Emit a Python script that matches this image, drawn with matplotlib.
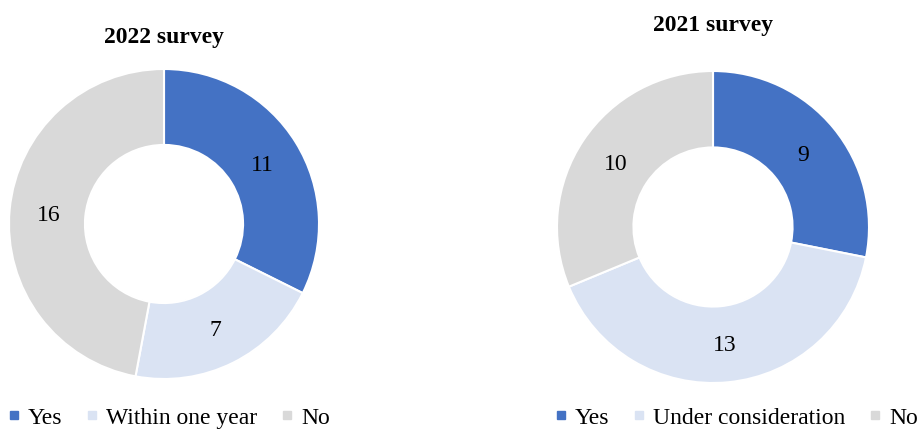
import matplotlib.pyplot as plt
from matplotlib.lines import Line2D

plt.rcParams['font.family'] = ['Liberation Serif', 'DejaVu Serif']

# data
labels_2022 = ["Yes", "Within one year", "No"]
values_2022 = [11, 7, 16]
labels_2021 = ["Yes", "Under consideration", "No"]
values_2021 = [9, 13, 10]
colors = ["#4472C4", "#DAE3F3", "#D9D9D9"]

W, H = 917, 429
fig = plt.figure(figsize=(W / 100, H / 100), dpi=100)


def donut(cx, cy, r, values, title, ty, labels, lx, ly):
    ax = fig.add_axes([(cx - r) / W, (H - cy - r) / H, 2 * r / W, 2 * r / H])
    ax.pie(values, colors=colors, startangle=90, counterclock=False,
           radius=1, labels=[str(v) for v in values], labeldistance=0.75,
           wedgeprops=dict(width=0.49, edgecolor="white", linewidth=1.5),
           textprops=dict(fontsize=17, color="black", ha="center",
                          va="center_baseline"))
    ax.set_xlim(-1, 1)
    ax.set_ylim(-1, 1)
    ax.set_aspect("equal")
    ax.axis("off")
    fig.text(cx / W, 1 - ty / H, title, ha="center", va="center",
             fontsize=17, fontweight="bold")
    handles = [Line2D([], [], marker="s", linestyle="", color=c, markersize=5.5)
               for c in colors]
    fig.legend(handles, labels, loc="center left",
               bbox_to_anchor=(lx / W, 1 - ly / H), ncol=3, frameon=False,
               fontsize=17, handlelength=0.45, handletextpad=0.35,
               columnspacing=1.05, borderaxespad=0, borderpad=0)


donut(164, 224, 155, values_2022, "2022 survey", 38, labels_2022, 9, 418)
donut(713, 227, 156, values_2021, "2021 survey", 25, labels_2021, 556, 418)

fig.savefig("out.png", dpi=100)
